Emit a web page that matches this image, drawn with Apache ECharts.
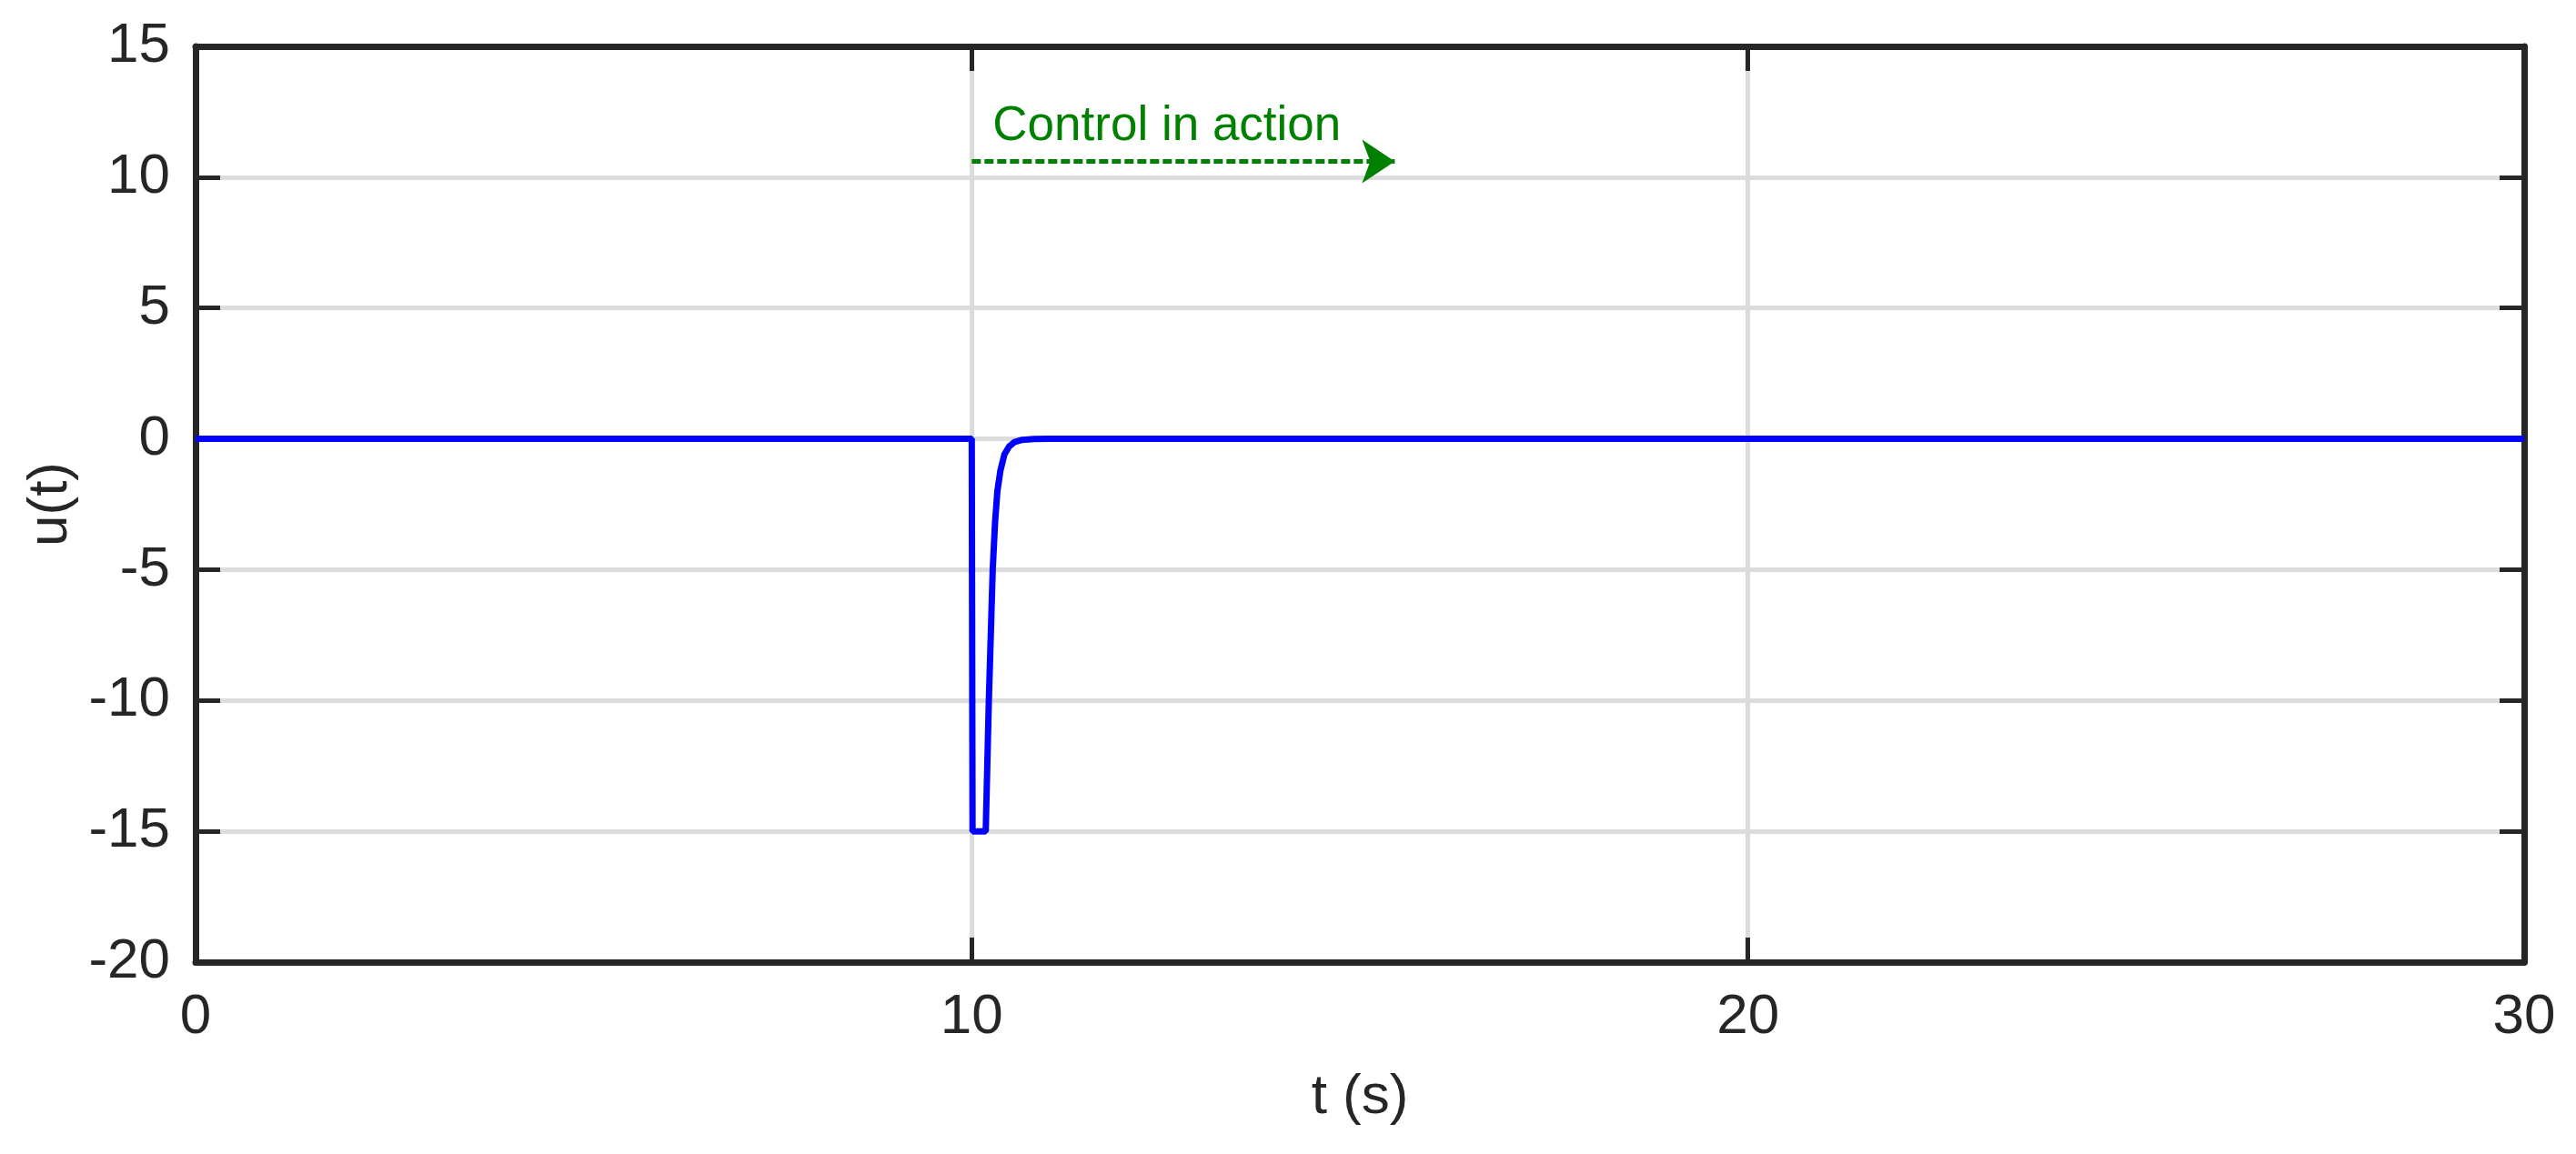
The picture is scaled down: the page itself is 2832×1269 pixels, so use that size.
<!DOCTYPE html>
<html>
<head>
<meta charset="utf-8">
<title>u(t)</title>
<script src="https://cdn.jsdelivr.net/npm/echarts@6/dist/echarts.min.js"></script>
<style>
  html, body { margin: 0; padding: 0; background: #fff; }
  #chart { width: 2832px; height: 1269px; }
</style>
</head>
<body>
<div id="chart"></div>
<script>
// control signal
var timeSec = [0, 10, 10.01, 10.18, 10.2, 10.22, 10.25, 10.27, 10.3, 10.33, 10.37, 10.42, 10.48, 10.55, 10.65, 10.8, 11, 30];
var uValues = [0, 0, -15, -15, -12.5, -10, -7, -5, -3.2, -2, -1.2, -0.6, -0.3, -0.12, -0.04, -0.01, 0, 0];

// axis ticks
var xTicks = [0, 10, 20, 30];
var yTicks = [-20, -15, -10, -5, 0, 5, 10, 15];

// annotation arrow
var arrowStart = [10, 10.6];
var arrowEnd = [15.45, 10.6];
var arrowText = 'Control in action';

var font = '"Liberation Sans", Arial, Helvetica, sans-serif';
var dark = '#262626';

var chart = echarts.init(document.getElementById('chart'));

var boxLine = { show: true, onZero: false, lineStyle: { color: dark, width: 7 } };
var tickIn = { show: true, inside: true, length: 27, lineStyle: { color: dark, width: 5 } };

chart.setOption({
  backgroundColor: '#fff',
  animation: false,
  grid: { left: 215, right: 57, top: 51, bottom: 211 },
  xAxis: [
    {
      type: 'value',
      min: xTicks[0],
      max: xTicks[xTicks.length - 1],
      interval: 10,
      name: 't (s)',
      nameLocation: 'middle',
      nameGap: 118,
      nameTextStyle: { fontFamily: font, fontSize: 62, color: dark },
      axisLine: boxLine,
      axisTick: tickIn,
      axisLabel: { fontFamily: font, fontSize: 62, color: dark, margin: 30 },
      splitLine: { show: true, lineStyle: { color: '#dcdcdc', width: 5 } }
    },
    {
      type: 'value',
      position: 'top',
      min: xTicks[0],
      max: xTicks[xTicks.length - 1],
      interval: 10,
      axisLine: boxLine,
      axisTick: tickIn,
      axisLabel: { show: false },
      splitLine: { show: false }
    }
  ],
  yAxis: [
    {
      type: 'value',
      min: yTicks[0],
      max: yTicks[yTicks.length - 1],
      interval: 5,
      name: 'u(t)',
      nameLocation: 'middle',
      nameGap: 128,
      nameTextStyle: { fontFamily: font, fontSize: 62, color: dark },
      axisLine: boxLine,
      axisTick: tickIn,
      axisLabel: { fontFamily: font, fontSize: 62, color: dark, margin: 28 },
      splitLine: { show: true, lineStyle: { color: '#dcdcdc', width: 5 } }
    },
    {
      type: 'value',
      position: 'right',
      min: yTicks[0],
      max: yTicks[yTicks.length - 1],
      interval: 5,
      axisLine: boxLine,
      axisTick: tickIn,
      axisLabel: { show: false },
      splitLine: { show: false }
    }
  ],
  series: [
    {
      type: 'line',
      data: timeSec.map(function (t, i) { return [t, uValues[i]]; }),
      showSymbol: false,
      lineStyle: { color: '#0000ff', width: 7 },
      z: 5,
      markLine: {
        silent: true,
        symbol: ['none', 'arrow'],
        symbolSize: 36,
        lineStyle: { color: '#008000', width: 5, type: [10, 4] },
        label: {
          show: true,
          position: 'insideStartTop',
          formatter: arrowText,
          fontFamily: font,
          fontSize: 53,
          color: '#008000',
          distance: [23, 12]
        },
        data: [[{ coord: arrowStart }, { coord: arrowEnd }]]
      }
    }
  ]
});
</script>
</body>
</html>
